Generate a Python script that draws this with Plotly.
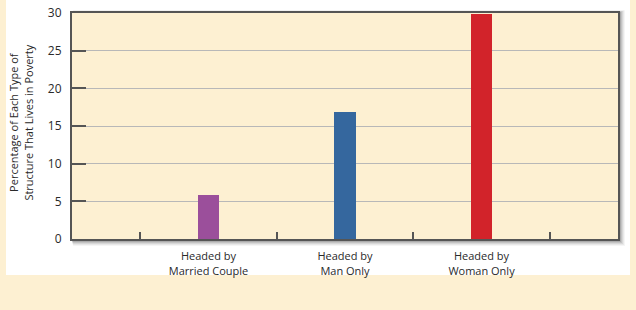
import plotly.graph_objects as go

categories = ["Headed by<br>Married Couple", "Headed by<br>Man Only", "Headed by<br>Woman Only"]
positions = [1, 2, 3]
values = [5.8, 16.9, 29.9]
colors = ["#9B4F9B", "#35679E", "#D2232A"]
y_ticks = [0, 5, 10, 15, 20, 25, 30]
y_title = "Percentage of Each Type of<br>Structure That Lives in Poverty"

W, H = 636, 310
L, R, T, B = 72, 18, 13, 71
pw, ph = W - L - R, H - T - B
CREAM = "#FDF0D2"
TXT = "#2A2A2A"

def px(x):
    return (x - L) / pw

def py(y):
    return (H - B - y) / ph

fig = go.Figure()
fig.add_trace(go.Bar(x=positions, y=values, marker=dict(color=colors, line=dict(width=0)),
                     width=0.155, showlegend=False))

shapes = [
    dict(type="rect", xref="paper", yref="paper", x0=px(6), x1=px(630), y0=py(275), y1=py(-5),
         fillcolor="white", line=dict(width=0), layer="below"),
]
for off, op in [(7, 0.04), (6, 0.05), (5, 0.07), (4, 0.09), (3, 0.12), (2, 0.16)]:
    shapes.append(dict(type="rect", xref="paper", yref="paper",
                       x0=px(L - 1 + off * 0.3), x1=px(L + pw + off), y0=py(H - B + off), y1=py(T - off * 0.4),
                       fillcolor=f"rgba(0,0,0,{op})", line=dict(width=0), layer="below"))
shapes.append(dict(type="rect", xref="paper", yref="paper", x0=0, x1=1, y0=0, y1=1,
                   fillcolor=CREAM, line=dict(width=0), layer="below"))

fig.update_layout(
    width=W, height=H,
    margin=dict(l=L, r=R, t=T, b=B, autoexpand=False),
    paper_bgcolor=CREAM,
    plot_bgcolor="rgba(0,0,0,0)",
    shapes=shapes,
    font=dict(family="Open Sans", size=11, color=TXT),
    bargap=0,
    annotations=[dict(text=y_title, xref="paper", yref="paper", x=px(21), y=0.515,
                      textangle=-90, showarrow=False, font=dict(size=11, color=TXT),
                      xanchor="center", yanchor="middle")],
)
fig.update_yaxes(range=[0, 30], tickvals=y_ticks, showgrid=True, gridcolor="#B8B8B8", gridwidth=1,
                 ticks="inside", ticklen=14, tickcolor="#555555", tickwidth=1.5,
                 showline=True, linecolor="#555555", linewidth=2, mirror=True, automargin=False,
                 zeroline=False, ticklabelstandoff=6, tickfont=dict(size=12, color=TXT))
fig.update_xaxes(range=[0, 4], tickvals=positions, ticktext=categories, ticks="",
                 showgrid=False, zeroline=False, automargin=False,
                 showline=True, linecolor="#555555", linewidth=2, mirror=True,
                 minor=dict(tickvals=[0.5, 1.5, 2.5, 3.5], ticks="inside", ticklen=7,
                            tickcolor="#555555", tickwidth=1.5, showgrid=False),
                 ticklabelstandoff=6, tickfont=dict(size=11, color=TXT))

fig.write_html("out.html")
